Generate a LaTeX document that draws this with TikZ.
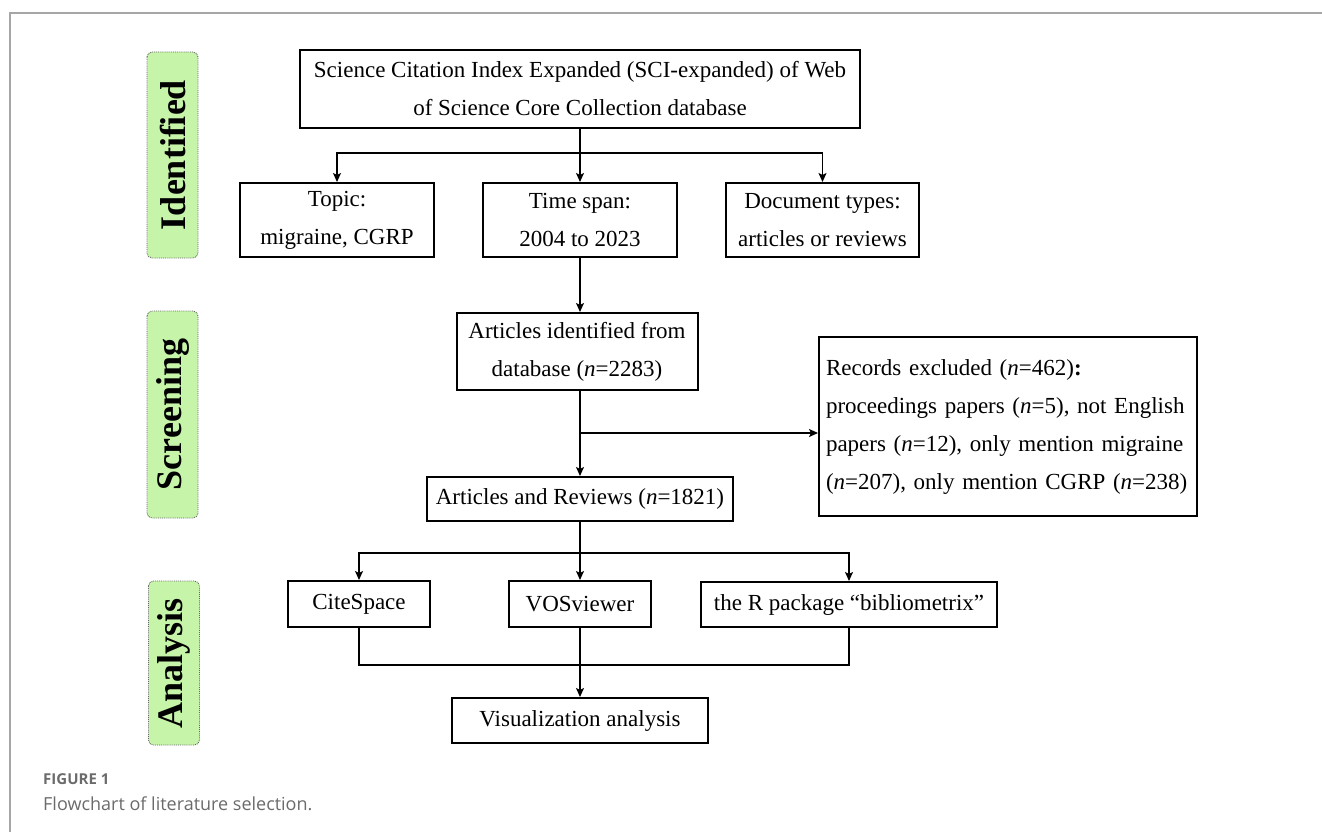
\documentclass[tikz,border=0pt]{standalone}
\usepackage{fontspec}
\setmainfont{Liberation Serif}
\newfontfamily\capfont{Open Sans}
\usetikzlibrary{arrows.meta}
\definecolor{labgreen}{HTML}{C6F4A9}
\definecolor{capgray}{HTML}{6B6B6B}
\tikzset{
  box/.style={draw=black, line width=2pt, align=center, inner sep=2pt,
    font=\fontsize{23}{38}\selectfont},
  conn/.style={line width=1.4pt},
  arr/.style={conn, -{Stealth[length=9pt,width=8pt,inset=2pt]}},
  phase/.style={draw=black!60, densely dotted, line width=0.9pt, fill=labgreen,
    rounded corners=5pt, rotate=90, minimum height=51pt, inner sep=0pt,
    font=\fontsize{36}{36}\selectfont\bfseries}
}
\begin{document}
\begin{tikzpicture}[x=1pt,y=-1pt]
\useasboundingbox (0,0) rectangle (1322,832);
\draw[black!35, line width=1.2pt] (10,832) -- (10,13) -- (1322,13);

% phase labels
\node[phase, minimum width=206pt] (pid) at (172.5,155) {Identified};
\node[phase, minimum width=207pt] (psc) at (172.5,414.5) {Screening};
\node[phase, minimum width=164pt] (pan) at (174,663) {Analysis};

% boxes
\node[box, minimum width=560pt, minimum height=78pt] (top) at (580,89)
  {Science Citation Index Expanded (SCI-expanded) of Web\\of Science Core Collection database};
\node[box, minimum width=194pt, minimum height=74pt] (topic) at (337,220) {Topic:\\migraine, CGRP};
\node[box, minimum width=194pt, minimum height=74pt] (time) at (580,220) {Time span:\\2004 to 2023};
\node[box, minimum width=193pt, minimum height=74pt] (doc) at (822.5,220) {Document types:\\articles or reviews};
\node[box, minimum width=241pt, minimum height=77pt] (ident) at (577,351.5) {Articles identified from\\database (\textit{n}=2283)};
\node[box, minimum width=306pt, minimum height=44pt] (ar) at (580,499) {Articles and Reviews (\textit{n}=1821)};
\node[box, minimum width=378pt, minimum height=179pt, align=left, text width=364pt] (rec) at (1008,426.5)
  {Records excluded (\textit{n}=462)\textbf{:}\\proceedings papers (\textit{n}=5), not English\\papers (\textit{n}=12), only mention migraine\\(\textit{n}=207), only mention CGRP (\textit{n}=238)};
\node[box, minimum width=142pt, minimum height=46pt] (cite) at (359,604) {CiteSpace};
\node[box, minimum width=142pt, minimum height=46pt] (vos) at (580,604) {VOSviewer};
\node[box, minimum width=296pt, minimum height=45pt] (bib) at (849,604.5) {the R package “bibliometrix”};
\node[box, minimum width=256pt, minimum height=45pt] (vis) at (580,720.5) {Visualization analysis};

% connectors
\coordinate (b1) at (580,153);
\draw[conn] (top.south) -- (b1);
\draw[arr] (b1) -| (topic.north);
\draw[arr] (b1) -| (doc.north);
\draw[arr] (b1) -- (time.north);
\draw[arr] (time.south) -- (ident.north -| time.south);
\draw[arr] (ident.south -| ar.north) -- (ar.north);
\coordinate (b2) at (580,433);
\draw[arr] (b2) -- (rec.west |- b2);
\coordinate (b3) at (580,553);
\draw[conn] (ar.south) -- (b3);
\draw[arr] (b3) -| (cite.north);
\draw[arr] (b3) -| (bib.north);
\draw[arr] (b3) -- (vos.north);
\coordinate (b4) at (580,665);
\draw[conn] (cite.south) |- (b4);
\draw[conn] (bib.south) |- (b4);
\draw[arr] (vos.south) -- (vis.north);

% caption
\node[anchor=base west, inner sep=0pt, text=capgray, font=\capfont\fontsize{15}{15}\selectfont\bfseries] (fig) at (43,784) {FIGURE 1};
\node[anchor=base west, inner sep=0pt, text=capgray, font=\capfont\fontsize{18}{18}\selectfont] (cap) at (43,810) {Flowchart of literature selection.};
\end{tikzpicture}
\end{document}
